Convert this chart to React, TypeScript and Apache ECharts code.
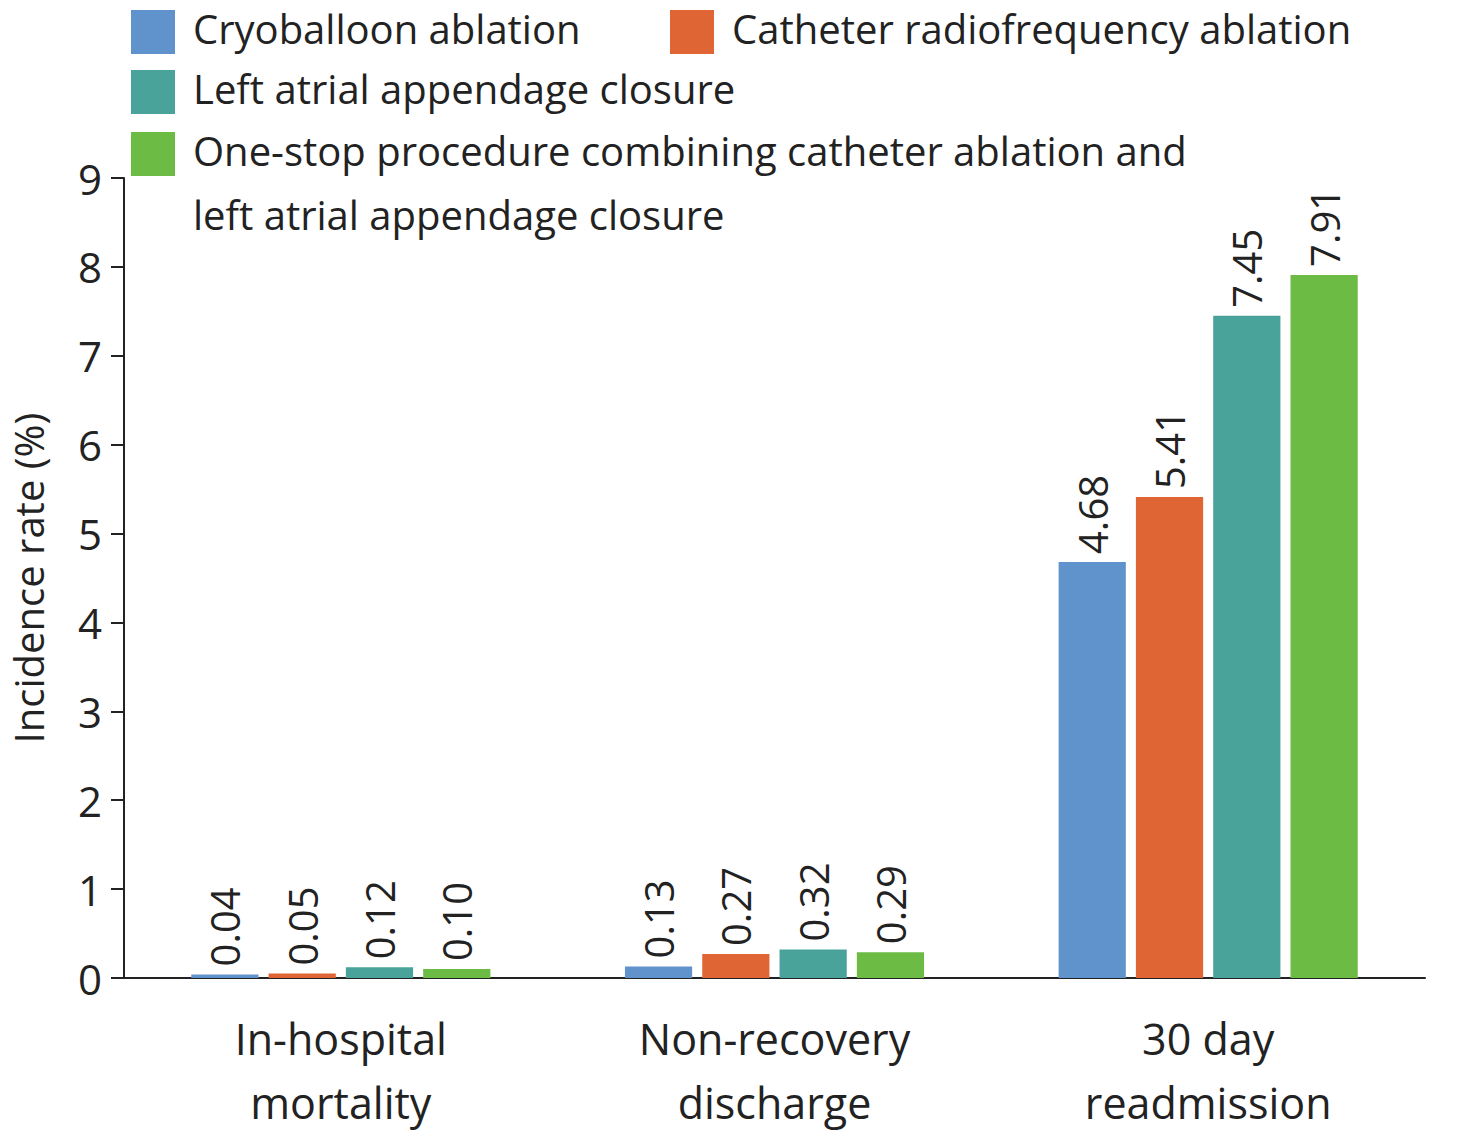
import * as echarts from 'echarts'
import { useEffect, useRef } from 'react'

const categories = ['In-hospital\nmortality', 'Non-recovery\ndischarge', '30 day\nreadmission']
const seriesNames = [
	'Cryoballoon ablation',
	'Catheter radiofrequency ablation',
	'Left atrial appendage closure',
	'One-stop procedure combining catheter ablation and\nleft atrial appendage closure',
]
const seriesColors = ['#6092CB', '#E06535', '#4AA39B', '#6BBB45']
const seriesValues = [
	[0.04, 0.13, 4.68],
	[0.05, 0.27, 5.41],
	[0.12, 0.32, 7.45],
	[0.1, 0.29, 7.91],
]
// legend placement: [x, y] of each swatch
const legendPos = [
	[131, 10],
	[670, 10],
	[131, 70],
	[131, 132],
]

const FONT = 'Open Sans'

const App = () => {
	const chartRef = useRef(null)

	useEffect(() => {
		const chart = echarts.init(chartRef.current, null, { renderer: 'svg' })

		const legendGraphics = seriesNames.flatMap((name, i) => [
			{
				type: 'rect',
				left: legendPos[i][0],
				top: legendPos[i][1],
				shape: { width: 44, height: 44 },
				style: { fill: seriesColors[i] },
			},
			{
				type: 'text',
				left: legendPos[i][0] + 62,
				top: legendPos[i][1] - 14,
				style: {
					text: name,
					fontSize: 40,
					fontFamily: FONT,
					fill: '#222',
					lineHeight: 64,
				},
			},
		])

		chart.setOption({
			animation: false,
			textStyle: { fontFamily: FONT },
			grid: { left: 124, right: 51, top: 178, bottom: 159 },
			graphic: legendGraphics,
			xAxis: {
				type: 'category',
				data: categories,
				axisLine: { lineStyle: { color: '#222', width: 2 } },
				axisTick: { alignWithLabel: true, length: 14, lineStyle: { color: '#222', width: 2 } },
				axisLabel: { fontSize: 43, color: '#222', margin: 28, lineHeight: 64, fontFamily: FONT },
			},
			yAxis: {
				type: 'value',
				min: 0,
				max: 9,
				interval: 1,
				name: 'Incidence rate (%)',
				nameLocation: 'middle',
				nameGap: 76,
				nameTextStyle: { fontSize: 40, color: '#222', fontFamily: FONT },
				splitLine: { show: false },
				axisLine: { show: true, lineStyle: { color: '#222', width: 2 } },
				axisTick: { show: true, length: 13, lineStyle: { color: '#222', width: 2 } },
				axisLabel: { fontSize: 42, color: '#222', margin: 22, fontFamily: FONT },
			},
			series: seriesNames.map((name, i) => ({
				name,
				type: 'bar',
				data: seriesValues[i],
				barWidth: '15.5%',
				barGap: '15%',
				itemStyle: { color: seriesColors[i] },
				label: {
					show: true,
					position: 'top',
					rotate: 90,
					align: 'left',
					verticalAlign: 'middle',
					distance: 8,
					fontSize: 40,
					color: '#222',
					fontFamily: FONT,
					formatter: (p: any) => p.value.toFixed(2),
				},
			})),
		})

		return () => chart.dispose()
	}, [])

	return (
		<div
			ref={chartRef}
			style={{ position: 'absolute', left: 0, top: 0, width: '1476px', height: '1137px', background: '#fff' }}
		/>
	)
}

export default App
